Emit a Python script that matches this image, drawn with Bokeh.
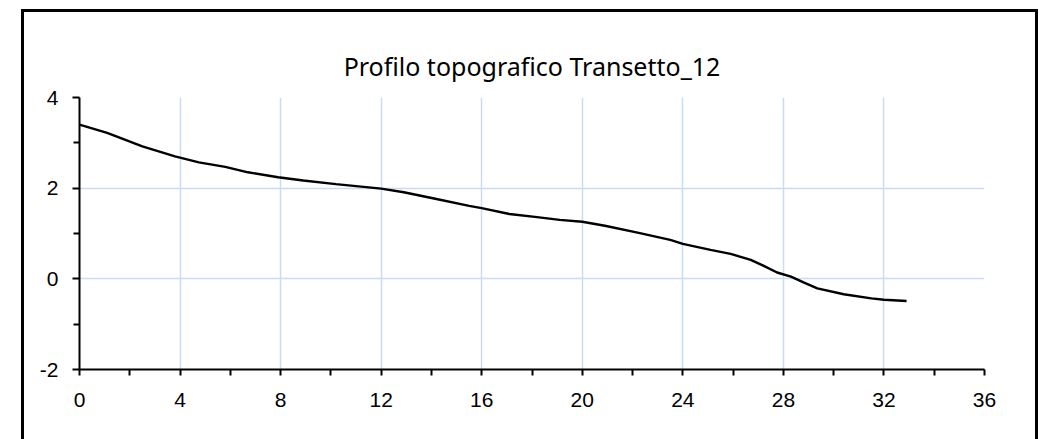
from bokeh.plotting import figure
from bokeh.models import FixedTicker, Range1d, PrintfTickFormatter
from bokeh.embed import file_html
from bokeh.resources import INLINE

title_text = "Profilo topografico Transetto_12"
distance = [0, 1.1, 2.5, 3.8, 4.75, 5.8, 6.7, 7.9, 8.9, 10.2, 12.0, 12.9, 14.2, 15.5,
            16.0, 17.1, 18.2, 19.1, 20.0, 20.9, 22.2, 23.5, 24.0, 25.1, 25.9, 26.7,
            27.2, 27.75, 28.3, 28.8, 29.35, 30.4, 31.5, 32.0, 32.9]
elevation = [3.40, 3.22, 2.92, 2.70, 2.57, 2.47, 2.35, 2.24, 2.17, 2.09, 1.99, 1.91,
             1.76, 1.61, 1.56, 1.43, 1.36, 1.30, 1.26, 1.17, 1.02, 0.86, 0.77, 0.64,
             0.55, 0.42, 0.29, 0.14, 0.05, -0.08, -0.21, -0.34, -0.43, -0.46, -0.49]
x_major = [0, 4, 8, 12, 16, 20, 24, 28, 32, 36]
x_minor = [2, 6, 10, 14, 18, 22, 26, 30, 34]
y_major = [-2, 0, 2, 4]
y_minor = [-1, 1, 3]

p = figure(width=1017, height=430, output_backend="svg", toolbar_location=None,
           x_range=Range1d(0, 36), y_range=Range1d(-2, 4),
           min_border_left=55, min_border_right=57, min_border_top=85, min_border_bottom=73)
p.margin = (9, 0, 0, 21)
p.styles = {"border-left": "3px solid black", "border-top": "3px solid black",
            "border-right": "3px solid black", "box-sizing": "border-box"}
p.outline_line_color = None
p.background_fill_color = "white"
p.border_fill_color = "white"

p.title.text = title_text
p.title.align = "center"
p.title.text_font = "Noto Sans"
p.title.text_font_size = "25px"
p.title.text_font_style = "normal"
p.title.text_color = "black"
p.title.standoff = 30

p.xaxis.ticker = FixedTicker(ticks=x_major, minor_ticks=x_minor)
p.yaxis.ticker = FixedTicker(ticks=y_major, minor_ticks=y_minor)
p.xaxis.formatter = PrintfTickFormatter(format="%d")
p.yaxis.formatter = PrintfTickFormatter(format="%d")
for ax in (p.xaxis, p.yaxis):
    ax.axis_line_color = "black"
    ax.axis_line_width = 2
    ax.major_tick_line_color = "black"
    ax.major_tick_line_width = 2
    ax.minor_tick_line_color = "black"
    ax.minor_tick_line_width = 2
    ax.major_tick_in = 0
    ax.minor_tick_in = 0
    ax.major_label_text_font = "Liberation Sans"
    ax.major_label_text_font_size = "21px"
    ax.major_label_text_color = "black"
p.xaxis.major_tick_out = 6
p.xaxis.minor_tick_out = 6
p.yaxis.major_tick_out = 7
p.yaxis.minor_tick_out = 6
p.xaxis.major_label_standoff = 17
p.yaxis.major_label_standoff = 14

p.xgrid.ticker = FixedTicker(ticks=x_major)
p.ygrid.ticker = FixedTicker(ticks=y_major)
p.grid.grid_line_color = "#c9dcf1"
p.grid.grid_line_width = 1.5

p.line(distance, elevation, line_color="black", line_width=2.4)

open("out.html", "w").write(file_html(p, INLINE))
